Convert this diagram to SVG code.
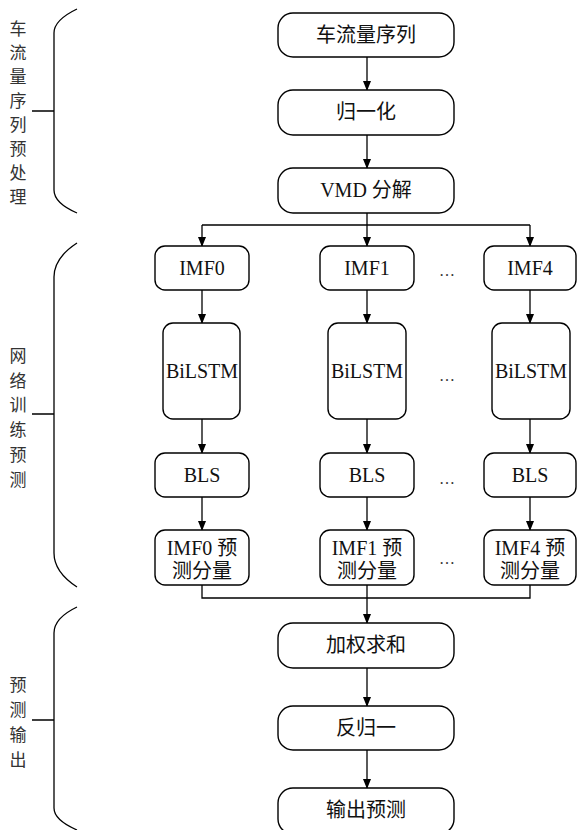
<svg xmlns="http://www.w3.org/2000/svg" width="577" height="830" viewBox="0 0 577 830">
<defs>
<marker id="ah" markerWidth="10" markerHeight="10" refX="9" refY="5" orient="auto" markerUnits="userSpaceOnUse">
<path d="M0,1 L10,5 L0,9 Z" fill="#000"/>
</marker>
<style>
.box{fill:#fff;stroke:#000;stroke-width:1.4}
.t{font-size:20px;fill:#111;text-anchor:middle}
.lab{font-size:17px;fill:#333;text-anchor:middle}
.ln{fill:none;stroke:#000;stroke-width:1.3}
.ar{fill:none;stroke:#000;stroke-width:1.3;marker-end:url(#ah)}
.dots{font-size:16px;fill:#333;text-anchor:middle}
</style>
</defs>
<rect width="577" height="830" fill="#fff"/>

<g id="brackets">
<path class="ln" d="M77,9 Q54,20 54,33 L54,190 Q54,203 77,213 M32,111 L54,111"/>
<path class="ln" d="M77,243 Q54,258 54,277 L54,553 Q54,572 77,587 M32,414 L54,414"/>
<path class="ln" d="M77,607 Q54,618 54,633 L54,808 Q54,820 77,830 M32,720 L54,720"/>
</g>
<g id="label1" class="lab" font-family="'Noto Sans CJK SC', sans-serif">
<text x="18" y="35">车</text><text x="18" y="59">流</text><text x="18" y="83">量</text><text x="18" y="107">序</text>
<text x="18" y="131">列</text><text x="18" y="155">预</text><text x="18" y="179">处</text><text x="18" y="203">理</text>
</g>
<g id="label2" class="lab" font-family="'Noto Sans CJK SC', sans-serif">
<text x="18" y="362">网</text><text x="18" y="387">络</text><text x="18" y="411">训</text><text x="18" y="436">练</text>
<text x="18" y="461">预</text><text x="18" y="486">测</text>
</g>
<g id="label3" class="lab" font-family="'Noto Sans CJK SC', sans-serif">
<text x="18" y="691">预</text><text x="18" y="716">测</text><text x="18" y="741">输</text><text x="18" y="766">出</text>
</g>

<g id="connectors">
<line class="ar" x1="367" y1="57" x2="367" y2="90"/>
<line class="ar" x1="367" y1="135" x2="367" y2="168"/>
<line class="ar" x1="367" y1="213" x2="367" y2="246"/>
<path class="ln" d="M202,225 L530,225"/>
<line class="ar" x1="202" y1="225" x2="202" y2="246"/>
<line class="ar" x1="530" y1="225" x2="530" y2="246"/>
<line class="ar" x1="202" y1="290" x2="202" y2="323"/>
<line class="ar" x1="367" y1="290" x2="367" y2="323"/>
<line class="ar" x1="530" y1="290" x2="530" y2="323"/>
<line class="ar" x1="202" y1="419" x2="202" y2="453"/>
<line class="ar" x1="367" y1="419" x2="367" y2="453"/>
<line class="ar" x1="530" y1="419" x2="530" y2="453"/>
<line class="ar" x1="202" y1="497" x2="202" y2="530"/>
<line class="ar" x1="367" y1="497" x2="367" y2="530"/>
<line class="ar" x1="530" y1="497" x2="530" y2="530"/>
<path class="ln" d="M202,585 L202,598 L530,598 L530,585 M367,585 L367,598"/>
<line class="ar" x1="367" y1="598" x2="367" y2="623"/>
<line class="ar" x1="367" y1="668" x2="367" y2="706"/>
<line class="ar" x1="367" y1="750" x2="367" y2="788"/>
</g>

<g id="nodes" font-family="'Liberation Serif', 'Noto Sans CJK SC', serif">
<g id="n_seq"><rect class="box" x="278" y="13" width="176" height="44" rx="15"/><text class="t" x="366" y="42">车流量序列</text></g>
<g id="n_norm"><rect class="box" x="278" y="90" width="176" height="45" rx="15"/><text class="t" x="366" y="119">归一化</text></g>
<g id="n_vmd"><rect class="box" x="278" y="168" width="176" height="45" rx="15"/><text class="t" x="366" y="197">VMD 分解</text></g>

<g id="n_imf0"><rect class="box" x="155" y="246" width="94" height="44" rx="10"/><text class="t" x="202" y="275">IMF0</text></g>
<g id="n_imf1"><rect class="box" x="320" y="246" width="94" height="44" rx="10"/><text class="t" x="367" y="275">IMF1</text></g>
<g id="n_imf4"><rect class="box" x="484" y="246" width="92" height="44" rx="10"/><text class="t" x="530" y="275">IMF4</text></g>

<g id="n_bil0"><rect class="box" x="163" y="323" width="77" height="96" rx="10"/><text class="t" x="202" y="378">BiLSTM</text></g>
<g id="n_bil1"><rect class="box" x="328" y="323" width="78" height="96" rx="10"/><text class="t" x="367" y="378">BiLSTM</text></g>
<g id="n_bil4"><rect class="box" x="492" y="323" width="78" height="96" rx="10"/><text class="t" x="531" y="378">BiLSTM</text></g>

<g id="n_bls0"><rect class="box" x="155" y="453" width="94" height="44" rx="10"/><text class="t" x="202" y="482">BLS</text></g>
<g id="n_bls1"><rect class="box" x="320" y="453" width="94" height="44" rx="10"/><text class="t" x="367" y="482">BLS</text></g>
<g id="n_bls4"><rect class="box" x="484" y="453" width="92" height="44" rx="10"/><text class="t" x="530" y="482">BLS</text></g>

<g id="n_out0"><rect class="box" x="155" y="530" width="94" height="55" rx="10"/><text class="t" x="202" y="555">IMF0 预</text><text class="t" x="202" y="578">测分量</text></g>
<g id="n_out1"><rect class="box" x="320" y="530" width="94" height="55" rx="10"/><text class="t" x="367" y="555">IMF1 预</text><text class="t" x="367" y="578">测分量</text></g>
<g id="n_out4"><rect class="box" x="484" y="530" width="92" height="55" rx="10"/><text class="t" x="530" y="555">IMF4 预</text><text class="t" x="530" y="578">测分量</text></g>

<g id="n_sum"><rect class="box" x="278" y="623" width="176" height="45" rx="15"/><text class="t" x="366" y="652">加权求和</text></g>
<g id="n_denorm"><rect class="box" x="278" y="706" width="176" height="44" rx="15"/><text class="t" x="366" y="735">反归一</text></g>
<g id="n_output"><rect class="box" x="278" y="788" width="176" height="46" rx="15"/><text class="t" x="366" y="817">输出预测</text></g>
</g>

<g id="dots" class="dots" font-family="'Liberation Serif', serif">
<text x="447" y="276">…</text>
<text x="447" y="381">…</text>
<text x="447" y="484">…</text>
<text x="447" y="564">…</text>
</g>
</svg>
